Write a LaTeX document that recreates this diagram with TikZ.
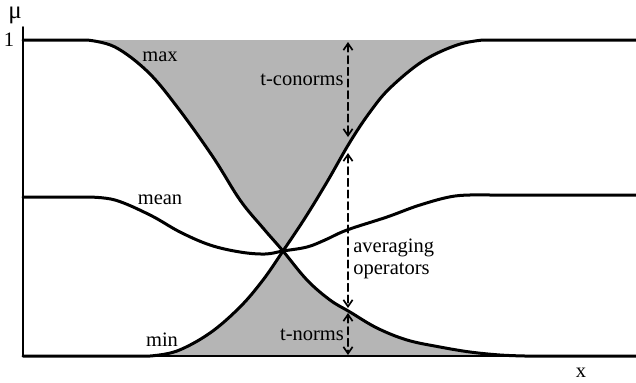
\documentclass[tikz,border=0pt]{standalone}
\usepackage{fontspec}
\setmainfont{Liberation Serif}
\usetikzlibrary{arrows.meta,positioning}
\tikzset{
  curve/.style={%
    line width=1.8pt,
  },
  axis/.style={%
    line width=1.2pt,
  },
  opband/.style={%
    <->,line width=1pt,
    dash pattern=on 4.5pt off 2.5pt,
  },
  normfill/.style={%
    fill=black!29,
  },
  lbl/.style={%
    inner sep=0pt,
    font=\fontsize{12.3}{13.5}\selectfont,
  },
}
% the two membership functions and their mean
\newcommand{\decline}{(23,40) -- plot[smooth,tension=.6] coordinates {(87,40) (115,47) (148,72) (178,108) (213,157) (240,200) (263,228) (283,251) (307,280) (330,300) (350,312) (377,328) (407,340) (440,347) (470,352) (500,355) (525,356)} -- (636,356)}
\newcommand{\incline}{(23,356) -- plot[smooth,tension=.6] coordinates {(150,356) (177,351) (210,333) (240,307) (263,280) (283,251) (305,218) (327,182) (350,142) (370,112) (390,88) (423,61) (457,45) (483,40)} -- (636,40)}
\newcommand{\meanline}{(23,197) -- plot[smooth,tension=.6] coordinates {(87,197) (115,200) (150,215) (180,232) (210,245) (240,252) (265,254) (283,251) (307,247) (325,240) (347,230) (387,217) (420,205) (455,196) (490,195)} -- (636,195)}

\begin{document}
\begin{tikzpicture}[
    x=0.6pt,y=-0.6pt,
    line cap=round,line join=round,
    >={Straight Barb[length=4pt,width=5.5pt]},
]
\useasboundingbox (0,0) rectangle (636,382);
% t-conorms (above max)
\begin{scope}
    \clip \decline -- (636,40) -- cycle;
    \fill[normfill] \incline -- (23,40) -- cycle;
\end{scope}
% t-norms (below min)
\begin{scope}
    \clip \decline -- (23,356) -- cycle;
    \fill[normfill] \incline -- (636,356) -- cycle;
\end{scope}
% axes
\coordinate (origin) at (23,356);
\coordinate (ytop) at (23,27);
\coordinate (xend) at (636,356);
\draw[axis] (ytop) -- (origin) -- (xend);
\node[lbl,font=\fontsize{15}{16}\selectfont] (mu) at (15,15) {μ};
\node[lbl] (one) at (9,40) {1};
\node[lbl] (xlab) at (581,373) {x};
% curves
\draw[curve] \decline;
\draw[curve] \incline;
\draw[curve] \meanline;
% ranges
\coordinate (tc-top) at (348,42);
\coordinate (tc-bot) at (348,137);
\coordinate (av-top) at (348,153);
\coordinate (av-bot) at (348,308);
\coordinate (tn-top) at (348,313);
\coordinate (tn-bot) at (348,355);
\draw[opband] (tc-top) -- (tc-bot);
\draw[opband] (av-top) -- (av-bot);
\draw[opband] (tn-top) -- (tn-bot);
% labels
\node[lbl] (max) at (160,57) {max};
\node[lbl] (tconorms) at (302,80) {t-conorms};
\node[lbl] (mean) at (160,200) {mean};
\node[lbl] (min) at (162,340) {min};
\node[lbl,align=left,anchor=west] (avg) at (353,259) {averaging\\operators};
\node[lbl] (tnorms) at (312,335) {t-norms};
\end{tikzpicture}
\end{document}
